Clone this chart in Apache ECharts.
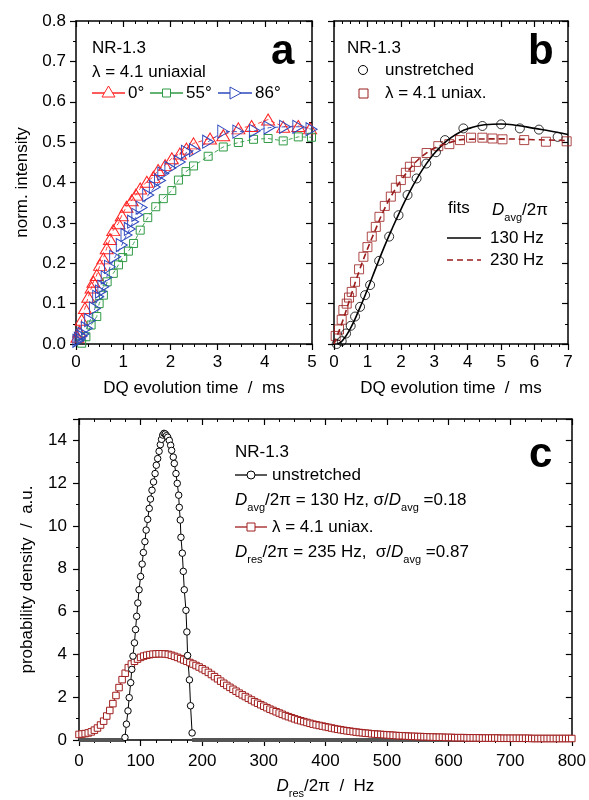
<!DOCTYPE html>
<html><head><meta charset="utf-8">
<script src="https://cdn.jsdelivr.net/npm/echarts@6/dist/echarts.min.js"></script>
<style>html,body{margin:0;padding:0;background:#fff}#c{width:589px;height:800px}</style>
</head><body><div id="c"></div>
<script>
// ---------- Panel a data ----------
const aRedT = [0.03,0.07,0.12,0.19,0.26,0.33,0.37,0.44,0.51,0.58,0.65,0.72,0.79,0.9,0.97,1.07,1.18,1.27,1.36,1.5,1.64,1.74,1.89,2.03,2.2,2.34,2.49,2.84,3.12,3.44,3.72,4.07,4.39,4.71,4.96];
const aRedV = [0.018,0.031,0.06,0.089,0.117,0.14,0.154,0.171,0.196,0.212,0.237,0.26,0.282,0.299,0.319,0.34,0.356,0.37,0.385,0.402,0.414,0.431,0.443,0.46,0.472,0.484,0.497,0.509,0.517,0.534,0.54,0.556,0.538,0.54,0.534];
const aGreenT = [0.12,0.21,0.32,0.44,0.49,0.58,0.66,0.79,0.9,0.99,1.11,1.22,1.36,1.52,1.69,1.85,2.03,2.17,2.33,2.49,2.8,3.12,3.44,3.76,4.07,4.39,4.71,4.99];
const aGreenV = [0.002,0.018,0.047,0.068,0.1,0.121,0.154,0.175,0.196,0.214,0.23,0.249,0.282,0.313,0.34,0.36,0.38,0.406,0.427,0.441,0.465,0.488,0.499,0.507,0.509,0.503,0.513,0.512];
const aBlueT = [0.05,0.08,0.12,0.16,0.23,0.3,0.4,0.47,0.53,0.58,0.65,0.72,0.83,0.97,1.07,1.14,1.21,1.3,1.39,1.53,1.67,1.78,1.85,2.0,2.2,2.35,2.52,2.8,3.12,3.44,3.79,4.1,4.43,4.71,4.99];
const aBlueV = [0.008,0.013,0.02,0.025,0.039,0.059,0.088,0.117,0.13,0.142,0.165,0.191,0.216,0.245,0.27,0.285,0.303,0.32,0.338,0.369,0.389,0.405,0.422,0.436,0.451,0.476,0.48,0.501,0.526,0.526,0.528,0.536,0.538,0.538,0.532];

// ---------- Panel b data ----------
const bCircT = [0.08,0.23,0.36,0.5,0.63,0.78,0.93,1.08,1.35,1.65,1.93,2.2,2.47,2.76,3.05,3.32,3.87,4.44,5.0,5.56,6.13,6.69];
const bCircV = [0.0,0.007,0.026,0.045,0.068,0.092,0.121,0.146,0.206,0.266,0.319,0.369,0.41,0.447,0.475,0.505,0.534,0.54,0.544,0.534,0.531,0.513];
const bSqT = [0.05,0.15,0.23,0.28,0.38,0.45,0.53,0.63,0.75,0.88,1.0,1.13,1.25,1.36,1.52,1.7,1.85,2.0,2.15,2.27,2.45,2.77,3.12,3.45,3.77,4.1,4.44,4.74,5.04,5.69,6.34,6.96];
const bSqV = [0.02,0.036,0.06,0.084,0.1,0.115,0.129,0.154,0.185,0.216,0.24,0.266,0.29,0.315,0.342,0.365,0.387,0.406,0.424,0.439,0.451,0.473,0.49,0.495,0.505,0.511,0.511,0.509,0.507,0.505,0.501,0.502];
const bFitBlackT = [0.1,0.25,0.5,0.75,1,1.25,1.5,1.75,2,2.25,2.5,2.75,3,3.25,3.5,3.75,4,4.5,5,5.5,6,6.5,7];
const bFitBlackV = [0,0.008,0.04,0.085,0.135,0.188,0.24,0.288,0.333,0.375,0.412,0.445,0.472,0.494,0.511,0.524,0.533,0.543,0.545,0.541,0.534,0.527,0.519];
const bFitRedT = [0,0.25,0.5,0.75,1,1.25,1.5,1.75,2,2.25,2.5,2.75,3,3.5,4,5,6,7];
const bFitRedV = [0,0.055,0.118,0.18,0.235,0.285,0.333,0.372,0.405,0.432,0.455,0.472,0.485,0.5,0.507,0.508,0.506,0.504];

// ---------- Panel c data ----------
const cBlackD = [74.6,77,79.5,81.5,83.9,85.7,87.6,90,91.8,93.6,95.5,97.5,100,102.5,104.5,107,109,111.5,114,116,118.5,121,123.5,125.5,127.7,130,132,134,136,138,140,142,144,146.6,148.8,150.4,153,154.7,157.4,159.5,161.8,162.8,164.4,165.5,167.7,169.3,170.9,173.6,175.1,176.3,179.3,181.1,183.6];
const cBlackP = [0.12,0.74,1.36,1.98,2.68,3.30,3.92,4.54,5.16,5.78,6.40,7.02,7.64,8.22,8.76,9.27,9.81,10.31,10.82,11.26,11.67,12.06,12.45,12.84,13.15,13.49,13.8,14.05,14.25,14.33,14.3,14.22,14.15,14.0,13.77,13.53,13.22,12.92,12.45,11.99,11.44,10.87,10.28,9.47,8.73,7.88,7.02,6.06,5.05,3.95,2.81,1.60,0.33];
const cBaseLeftD = [0, 74.6];
const cBaseRightD = [183.6, 800];
const cBaseP = [0, 0];
const cRedD = [0,5,10,15,20,25,30,35,40,45,50,55,60,65,70,75,80,85,90,95,100,105,110,115,120,125,130,135,140,145,150,155,160,165,170,175,180,185,190,195,200,205,210,215,220,225,230,235,240,245,250,255,260,265,270,275,280,285,290,295,300,305,310,315,320,325,330,335,340,345,350,355,360,365,370,375,380,385,390,395,400,405,410,415,420,425,430,435,440,445,450,455,460,465,470,475,480,485,490,495,500,505,510,515,520,525,530,535,540,545,550,555,560,565,570,575,580,585,590,595,600,605,610,615,620,625,630,635,640,645,650,655,660,665,670,675,680,685,690,695,700,705,710,715,720,725,730,735,740,745,750,755,760,765,770,775,780,785,790,795,800];
const cRedP = [0.26,0.28,0.30,0.33,0.38,0.46,0.56,0.70,0.88,1.12,1.38,1.70,2.08,2.45,2.82,3.12,3.38,3.55,3.68,3.78,3.86,3.92,3.96,3.99,4.01,4.02,4.03,4.03,4.02,4.00,3.96,3.91,3.86,3.80,3.74,3.68,3.62,3.55,3.48,3.41,3.33,3.25,3.16,3.06,2.96,2.86,2.75,2.65,2.55,2.46,2.37,2.28,2.19,2.11,2.03,1.95,1.87,1.79,1.72,1.65,1.58,1.51,1.44,1.38,1.32,1.26,1.20,1.14,1.09,1.04,0.99,0.94,0.90,0.86,0.82,0.78,0.74,0.71,0.68,0.65,0.62,0.59,0.56,0.53,0.50,0.48,0.45,0.43,0.41,0.39,0.37,0.35,0.34,0.32,0.31,0.29,0.28,0.27,0.26,0.25,0.24,0.23,0.22,0.21,0.20,0.20,0.19,0.18,0.17,0.17,0.16,0.16,0.15,0.15,0.14,0.14,0.13,0.13,0.13,0.12,0.12,0.12,0.11,0.11,0.11,0.11,0.10,0.10,0.10,0.10,0.10,0.09,0.09,0.09,0.09,0.09,0.09,0.08,0.08,0.08,0.08,0.08,0.08,0.08,0.08,0.08,0.08,0.07,0.07,0.07,0.07,0.07,0.07,0.07,0.07,0.07,0.07,0.07,0.07,0.07,0.07];

// ---------- helpers ----------
const FF = '"Liberation Sans", Arial, sans-serif';
const zip = (xs, ys) => xs.map((x, i) => [x, ys[i]]);
const RED = '#ff2424', GREEN = '#2f9a44', BLUE = '#2d48bd', DRED = '#9a1c1c', CRED = '#a01d1d';
const AL = {show: true, onZero: false, lineStyle: {color: '#000', width: 1.5}};

function xPair(gi, min, max, interval, minorSplit, name, nameGap, labMargin, nameRich) {
  return [
    {type: 'value', gridIndex: gi, position: 'bottom', min, max, interval,
     axisLine: AL, splitLine: {show: false},
     axisTick: {show: true, inside: false, length: 6, lineStyle: {color: '#000', width: 1.2}},
     minorTick: {show: true, splitNumber: minorSplit, length: 3, lineStyle: {color: '#000', width: 1}},
     axisLabel: {show: true, color: '#000', fontSize: 17, fontFamily: FF, margin: labMargin},
     name, nameLocation: 'middle', nameGap,
     nameTextStyle: Object.assign({color: '#000', fontSize: 17, fontFamily: FF}, nameRich ? {rich: nameRich} : {})},
    {type: 'value', gridIndex: gi, position: 'top', min, max, interval,
     axisLine: AL, splitLine: {show: false}, axisLabel: {show: false},
     axisTick: {show: true, inside: true, length: 6, lineStyle: {color: '#000', width: 1.2}},
     minorTick: {show: true, splitNumber: minorSplit, length: 3, lineStyle: {color: '#000', width: 1}}}
  ];
}
function yPair(gi, min, max, interval, minorSplit, showLabels, fmt, name, nameGap, labMargin) {
  return [
    {type: 'value', gridIndex: gi, position: 'left', min, max, interval,
     axisLine: AL, splitLine: {show: false},
     axisTick: {show: true, inside: false, length: 6, lineStyle: {color: '#000', width: 1.2}},
     minorTick: {show: true, splitNumber: minorSplit, length: 3, lineStyle: {color: '#000', width: 1}},
     axisLabel: {show: showLabels, color: '#000', fontSize: 17, fontFamily: FF, margin: labMargin, formatter: fmt},
     name: name || '', nameLocation: 'middle', nameGap: nameGap || 0, nameRotate: 90,
     nameTextStyle: {color: '#000', fontSize: 17, fontFamily: FF}},
    {type: 'value', gridIndex: gi, position: 'right', min, max, interval,
     axisLine: AL, splitLine: {show: false}, axisLabel: {show: false},
     axisTick: {show: true, inside: true, length: 6, lineStyle: {color: '#000', width: 1.2}},
     minorTick: {show: true, splitNumber: minorSplit, length: 3, lineStyle: {color: '#000', width: 1}}}
  ];
}

const xAxes = [].concat(
  xPair(0, 0, 5, 1, 4, 'DQ evolution time  /  ms', 36, 10),
  xPair(1, 0, 7, 1, 4, 'DQ evolution time  /  ms', 36, 10),
  xPair(2, 0, 800, 100, 4, '{i|D}{s|res}{n|/2π  /  Hz}', 33, 13, {
    i: {fontStyle: 'italic', fontSize: 17, fontFamily: FF, color: '#000', lineHeight: 26},
    s: {fontSize: 11, fontFamily: FF, color: '#000', verticalAlign: 'bottom', lineHeight: 12},
    n: {fontSize: 17, fontFamily: FF, color: '#000', lineHeight: 26}})
);
const yAxes = [].concat(
  yPair(0, 0, 0.8, 0.1, 2, true, v => v.toFixed(1), 'norm. intensity', 45, 10),
  yPair(1, 0, 0.8, 0.1, 2, false, null, '', 0, 10),
  yPair(2, 0, 15, 2, 2, true, v => (Math.round(v) % 2 === 0 ? String(Math.round(v)) : ''), 'probability density  /  a.u.', 43, 12)
);

function lineSeries(xi, yi, data, color, symbol, size, rotate, dashed) {
  return {type: 'line', xAxisIndex: xi, yAxisIndex: yi, data, symbol, symbolSize: size, symbolRotate: rotate || 0,
    showSymbol: true, silent: true, clip: false,
    lineStyle: {color, width: 0.9, type: dashed ? [4, 3] : 'solid'},
    itemStyle: {color: 'rgba(255,255,255,0)', borderColor: color, borderWidth: 1}};
}

const series = [
  lineSeries(0, 0, zip(aRedT, aRedV), RED, 'triangle', [13, 11], 0, true),
  lineSeries(0, 0, zip(aGreenT, aGreenV), GREEN, 'rect', 8, 0, true),
  lineSeries(0, 0, zip(aBlueT, aBlueV), BLUE, 'triangle', [13, 11], -90, true),
  // panel b fits
  {type: 'line', xAxisIndex: 2, yAxisIndex: 2, data: zip(bFitBlackT, bFitBlackV), smooth: true, symbol: 'none', silent: true,
   lineStyle: {color: '#000', width: 1.6}},
  {type: 'line', xAxisIndex: 2, yAxisIndex: 2, data: zip(bFitRedT, bFitRedV), smooth: true, symbol: 'none', silent: true,
   lineStyle: {color: DRED, width: 1.6, type: [6, 4]}},
  {type: 'scatter', xAxisIndex: 2, yAxisIndex: 2, data: zip(bSqT, bSqV), symbol: 'rect', symbolSize: 9, silent: true,
   itemStyle: {color: 'rgba(255,255,255,0)', borderColor: DRED, borderWidth: 1}},
  {type: 'scatter', xAxisIndex: 2, yAxisIndex: 2, data: zip(bCircT, bCircV), symbol: 'circle', symbolSize: 9, silent: true,
   itemStyle: {color: 'rgba(255,255,255,0)', borderColor: '#000', borderWidth: 1}},
  // panel c
  {type: 'line', xAxisIndex: 4, yAxisIndex: 4, data: zip(cBaseLeftD, cBaseP), symbol: 'none', silent: true,
   lineStyle: {color: '#555', width: 4}},
  {type: 'line', xAxisIndex: 4, yAxisIndex: 4, data: zip(cBaseRightD, cBaseP), symbol: 'none', silent: true,
   lineStyle: {color: '#555', width: 4}},
  {type: 'line', xAxisIndex: 4, yAxisIndex: 4, data: zip(cRedD, cRedP), symbol: 'rect', symbolSize: 6.5, silent: true,
   lineStyle: {color: CRED, width: 1}, itemStyle: {color: '#fff', borderColor: CRED, borderWidth: 1}},
  {type: 'line', xAxisIndex: 4, yAxisIndex: 4, data: zip(cBlackD, cBlackP), symbol: 'circle', symbolSize: 6.5, silent: true,
   lineStyle: {color: '#000', width: 1}, itemStyle: {color: '#fff', borderColor: '#000', borderWidth: 1}}
];

// ---------- annotations ----------
function T(x, y, text, size, extra) {
  return {type: 'text', x, y, silent: true, style: Object.assign({text, fill: '#000', fontSize: size || 17, fontFamily: FF,
    align: 'left', verticalAlign: 'middle'}, extra || {})};
}
function L(x1, y1, x2, y2, color, dash) {
  return {type: 'line', silent: true, shape: {x1, y1, x2, y2}, style: {stroke: color, lineWidth: 1.3, lineDash: dash || null}};
}
const RICH = {
  n: {fontSize: 17, fontFamily: FF, color: '#000', lineHeight: 26},
  i: {fontSize: 17, fontFamily: FF, fontStyle: 'italic', color: '#000', lineHeight: 26},
  s: {fontSize: 11, fontFamily: FF, color: '#000', verticalAlign: 'bottom', lineHeight: 12}
};
function R(x, y, text) {
  return {type: 'text', x, y, silent: true, style: {text, rich: RICH, fill: '#000', fontSize: 17, fontFamily: FF, align: 'left', verticalAlign: 'middle'}};
}
const graphic = [
  // panel a
  T(92, 48, 'NR-1.3'),
  T(92, 72, 'λ = 4.1 uniaxial'),
  L(92, 93, 125, 93, RED),
  {type: 'polygon', silent: true, shape: {points: [[108.5, 86], [102, 97], [115, 97]]}, style: {fill: '#fff', stroke: RED, lineWidth: 1}},
  T(128, 93, '0°'),
  L(150, 93, 183, 93, GREEN),
  {type: 'rect', silent: true, shape: {x: 162.5, y: 89, width: 8, height: 8}, style: {fill: '#fff', stroke: GREEN, lineWidth: 1}},
  T(186, 93, '55°'),
  L(218, 93, 252, 93, BLUE),
  {type: 'polygon', silent: true, shape: {points: [[241, 93], [230, 87], [230, 99]]}, style: {fill: '#fff', stroke: BLUE, lineWidth: 1}},
  T(255, 93, '86°'),
  T(271, 52, 'a', 42, {fontWeight: 'bold'}),
  // panel b
  T(347, 48, 'NR-1.3'),
  {type: 'circle', silent: true, shape: {cx: 363, cy: 70, r: 4.5}, style: {fill: 'none', stroke: '#000', lineWidth: 1}},
  T(385, 70, 'unstretched'),
  {type: 'rect', silent: true, shape: {x: 359, y: 89, width: 9, height: 9}, style: {fill: 'none', stroke: DRED, lineWidth: 1}},
  T(385, 93, 'λ = 4.1 uniax.'),
  T(528, 52, 'b', 42, {fontWeight: 'bold'}),
  T(448, 208, 'fits'),
  R(492, 210, '{i|D}{s|avg}{n|/2π}'),
  L(447, 238, 481, 238, '#000'),
  T(490, 238, '130 Hz'),
  L(447, 260, 481, 260, DRED, [6, 4]),
  T(490, 260, '230 Hz'),
  // panel c
  T(235, 452, 'NR-1.3'),
  L(235, 475, 267, 475, '#000'),
  {type: 'circle', silent: true, shape: {cx: 251, cy: 475, r: 4}, style: {fill: '#fff', stroke: '#000', lineWidth: 1}},
  T(272, 475, 'unstretched'),
  R(235, 500, '{i|D}{s|avg}{n|/2π = 130 Hz, σ/}{i|D}{s|avg}{n| =0.18}'),
  L(235, 527, 267, 527, CRED),
  {type: 'rect', silent: true, shape: {x: 247, y: 523, width: 8, height: 8}, style: {fill: '#fff', stroke: CRED, lineWidth: 1}},
  T(272, 527, 'λ = 4.1 uniax.'),
  R(235, 552, '{i|D}{s|res}{n|/2π = 235 Hz,  σ/}{i|D}{s|avg}{n| =0.87}'),
  T(529, 455, 'c', 42, {fontWeight: 'bold'})
];

const chart = echarts.init(document.getElementById('c'), null, {renderer: 'canvas'});
chart.setOption({
  animation: false,
  backgroundColor: '#fff',
  grid: [
    {left: 76, top: 21, width: 236, height: 323, containLabel: false},
    {left: 334, top: 21, width: 234, height: 323, containLabel: false},
    {left: 79, top: 419, width: 493, height: 322, containLabel: false}
  ],
  xAxis: xAxes,
  yAxis: yAxes,
  series,
  graphic
});
</script></body></html>
